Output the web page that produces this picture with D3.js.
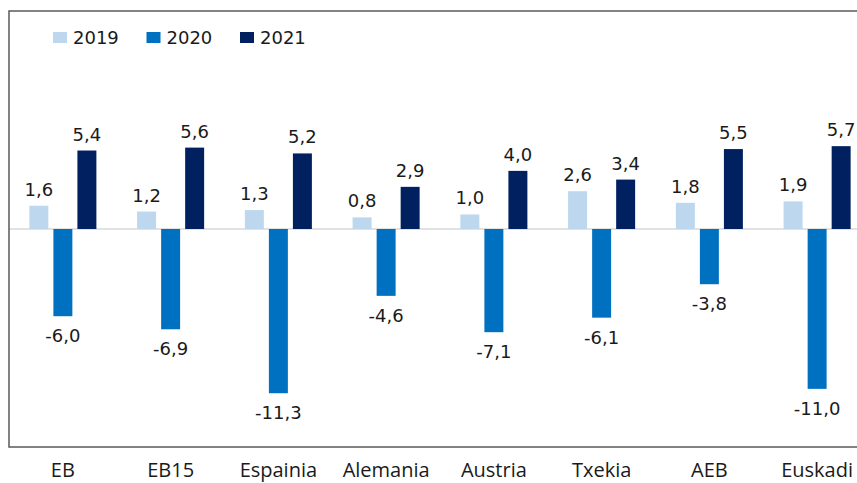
<!DOCTYPE html>
<html lang="eu">

<head>
    <meta charset="UTF-8">
    <title>BPG aldaketa</title>
    <script src="https://d3js.org/d3.v7.min.js"></script>
    <style>
        body {
            margin: 0;
            background-color: white;
        }
    </style>
</head>

<body>
    <script>
        // data
        var categories = ["EB", "EB15", "Espainia", "Alemania", "Austria", "Txekia", "AEB", "Euskadi"]
        var years = ["2019", "2020", "2021"]
        var values2019 = [1.6, 1.2, 1.3, 0.8, 1.0, 2.6, 1.8, 1.9]
        var values2020 = [-6.0, -6.9, -11.3, -4.6, -7.1, -6.1, -3.8, -11.0]
        var values2021 = [5.4, 5.6, 5.2, 2.9, 4.0, 3.4, 5.5, 5.7]
        var yDomain = [-15, 15]

        var colors = ["#BDD7EE", "#0070C0", "#002060"]
        var seriesValues = [values2019, values2020, values2021]

        var width = 857
        var height = 483
        var plotLeft = 9
        var plotRight = 871
        var plotTop = 11
        var plotBottom = 447

        const svg = d3.select("body")
            .append("svg")
            .attr("width", width)
            .attr("height", height)

        var x0 = d3.scaleBand()
            .domain(categories)
            .range([plotLeft, plotRight])
            .paddingInner(0.378)
            .paddingOuter(0.189)

        var x1 = d3.scaleBand()
            .domain(years)
            .range([0, x0.bandwidth()])
            .paddingInner(0.21)

        var y = d3.scaleLinear()
            .domain(yDomain)
            .range([plotBottom, plotTop])

        // zero line
        svg.append("line")
            .attr("x1", plotLeft)
            .attr("x2", plotRight)
            .attr("y1", y(0))
            .attr("y2", y(0))
            .attr("stroke", "#d9d9d9")
            .attr("stroke-width", 1.5)

        var rows = []
        categories.forEach(function (c, i) {
            years.forEach(function (yr, j) {
                rows.push({ cat: c, year: yr, value: seriesValues[j][i], color: colors[j] })
            })
        })

        svg.selectAll(".bar")
            .data(rows)
            .enter().append("rect")
            .attr("class", "bar")
            .attr("x", d => x0(d.cat) + x1(d.year))
            .attr("width", x1.bandwidth())
            .attr("y", d => y(Math.max(0, d.value)))
            .attr("height", d => Math.abs(y(d.value) - y(0)))
            .attr("fill", d => d.color)

        // comma decimals, plain hyphen for minus
        var fmt = d => d3.format(".1f")(d).replace(".", ",").replace("\u2212", "-")

        svg.selectAll(".lbl")
            .data(rows)
            .enter().append("text")
            .attr("class", "lbl")
            .attr("x", d => x0(d.cat) + x1(d.year) + x1.bandwidth() / 2)
            .attr("y", d => d.value >= 0 ? y(d.value) - 10 : y(d.value) + 26)
            .attr("text-anchor", "middle")
            .style("font-family", "DejaVu Sans")
            .style("font-size", "18px")
            .attr("fill", "#1a1a1a")
            .text(d => fmt(d.value))

        // frame (right side runs off the picture)
        svg.append("path")
            .attr("d", "M" + plotRight + "," + plotTop + "H" + plotLeft + "V" + plotBottom + "H" + plotRight)
            .attr("fill", "none")
            .attr("stroke", "#595959")
            .attr("stroke-width", 1.5)

        // category labels
        svg.selectAll(".cat")
            .data(categories)
            .enter().append("text")
            .attr("class", "cat")
            .attr("x", d => x0(d) + x0.bandwidth() / 2)
            .attr("y", 477)
            .attr("text-anchor", "middle")
            .style("font-family", "Open Sans")
            .style("font-size", "20px")
            .attr("fill", "#1a1a1a")
            .text(d => d)

        // legend
        var legend = svg.selectAll(".leg")
            .data(years)
            .enter().append("g")
            .attr("class", "leg")
            .attr("transform", (d, i) => "translate(" + (53 + i * 93.5) + ",32)")
        legend.append("rect")
            .attr("width", 14)
            .attr("height", 11)
            .attr("fill", (d, i) => colors[i])
        legend.append("text")
            .attr("x", 20)
            .attr("y", 12)
            .style("font-family", "DejaVu Sans")
            .style("font-size", "18px")
            .attr("fill", "#1a1a1a")
            .text(d => d)
    </script>
</body>

</html>
